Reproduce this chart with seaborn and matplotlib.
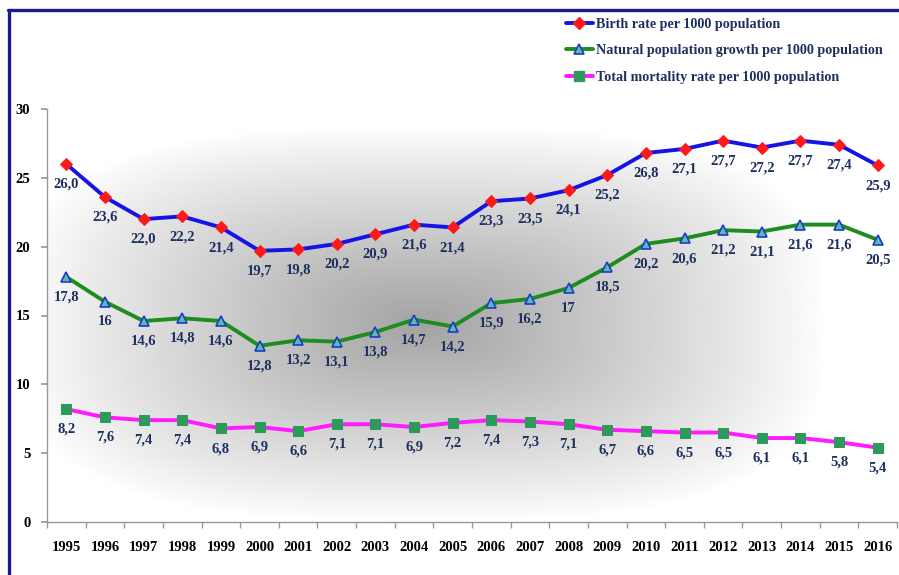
import numpy as np
import pandas as pd
import matplotlib
matplotlib.use("Agg")
import matplotlib.pyplot as plt
import seaborn as sns
from matplotlib.lines import Line2D

years = list(range(1995, 2017))
birth = [26.0, 23.6, 22.0, 22.2, 21.4, 19.7, 19.8, 20.2, 20.9, 21.6, 21.4,
         23.3, 23.5, 24.1, 25.2, 26.8, 27.1, 27.7, 27.2, 27.7, 27.4, 25.9]
natural = [17.8, 16, 14.6, 14.8, 14.6, 12.8, 13.2, 13.1, 13.8, 14.7, 14.2,
           15.9, 16.2, 17, 18.5, 20.2, 20.6, 21.2, 21.1, 21.6, 21.6, 20.5]
mortality = [8.2, 7.6, 7.4, 7.4, 6.8, 6.9, 6.6, 7.1, 7.1, 6.9, 7.2,
             7.4, 7.3, 7.1, 6.7, 6.6, 6.5, 6.5, 6.1, 6.1, 5.8, 5.4]
series_names = ["Birth rate per 1000 population",
                "Natural population growth per 1000 population",
                "Total mortality rate per 1000 population"]
yticks = [0, 5, 10, 15, 20, 25, 30]

sns.set_theme(style="white")
plt.rcParams['font.family'] = ['Liberation Serif', 'DejaVu Serif']
plt.rcParams['font.weight'] = 'bold'

fig = plt.figure(figsize=(8.99, 5.75), dpi=100)
ax = fig.add_axes([47/899, 1-522/575, 850/899, 413/575])

# rectangular-ish radial gray background
nx, ny = 450, 300
gx = np.linspace(0, 1, nx)
gy = np.linspace(0, 1, ny)
X, Y = np.meshgrid(gx, gy)
p = 3.0
r = (np.abs((X-0.44)/0.48)**p + np.abs((Y-0.48)/0.48)**p)**(1/p)
val = 1 - 0.36*np.clip(1-r, 0, 1)**0.9
ax.imshow(val, extent=[0, 1, 0, 1], transform=ax.transAxes, cmap='gray',
          vmin=0, vmax=1, origin='lower', aspect='auto', zorder=0,
          interpolation='bilinear')

label_color = '#1F3060'
styles = [
    dict(color='#1414E6', marker='D', markersize=6.5, markerfacecolor='#FF1A1A',
         markeredgecolor='#FF1A1A'),
    dict(color='#1E8C1E', marker='^', markersize=6.5, markerfacecolor='#5FB8B0',
         markeredgecolor='#1A3CC8', markeredgewidth=1.2),
    dict(color='#FF1AFF', marker='s', markersize=7, markerfacecolor='#2E9A5A',
         markeredgecolor='#2E9A5A'),
]
datas = [birth, natural, mortality]
fmts = [lambda v: f"{v:.1f}".replace('.', ','),
        lambda v: f"{v:g}".replace('.', ','),
        lambda v: f"{v:.1f}".replace('.', ',')]

handles = []
for name, d, st, fm in zip(series_names, datas, styles, fmts):
    df = pd.DataFrame({'year': years, 'value': d})
    sns.lineplot(data=df, x='year', y='value', ax=ax, linewidth=2.8, zorder=3, **st)
    for xv, yv in zip(years, d):
        ax.annotate(fm(yv), (xv, yv), xytext=(0, -14.5), textcoords='offset points',
                    ha='center', va='center', fontsize=10.5, fontweight='bold',
                    color=label_color, zorder=4)
    handles.append(Line2D([], [], linewidth=2.8, **st))

ax.set_xlim(1994.5, 2016.5)
ax.set_ylim(0, 30)
ax.set_xticks(years)
ax.set_xticklabels([str(y) for y in years], fontsize=10.5, fontweight='bold', color='black')
ax.set_xticks(np.arange(1994.5, 2017, 1), minor=True)
ax.set_yticks(yticks)
ax.set_yticklabels([str(t) for t in yticks], fontsize=10.5, fontweight='bold', color='black')
ax.tick_params(axis='x', which='major', length=0, pad=14)
ax.tick_params(axis='x', which='minor', length=4, color='#999999', direction='out', bottom=True)
ax.tick_params(axis='y', which='major', length=4, color='#999999', direction='out', left=True, pad=8)
ax.set_xlabel('')
ax.set_ylabel('')
for s in ['top', 'right']:
    ax.spines[s].set_visible(False)
for s in ['left', 'bottom']:
    ax.spines[s].set_color('#999999')
    ax.spines[s].set_linewidth(1.0)

leg = fig.legend(handles, series_names, loc='upper left',
                 bbox_to_anchor=(553/899, 1-5/575), frameon=False,
                 prop={'family': 'Liberation Serif', 'weight': 'bold', 'size': 10.2},
                 handlelength=1.9, handletextpad=0.25, labelspacing=0.95)
for t in leg.get_texts():
    t.set_color(label_color)

# figure border (left and top)
fig.add_artist(Line2D([9/899, 9/899], [0, 1-10/575], transform=fig.transFigure,
                      color='#1A1A8C', linewidth=2.4))
fig.add_artist(Line2D([8/899, 1], [1-10/575, 1-10/575], transform=fig.transFigure,
                      color='#1A1A8C', linewidth=2.4))

fig.savefig('out.png', dpi=100)
